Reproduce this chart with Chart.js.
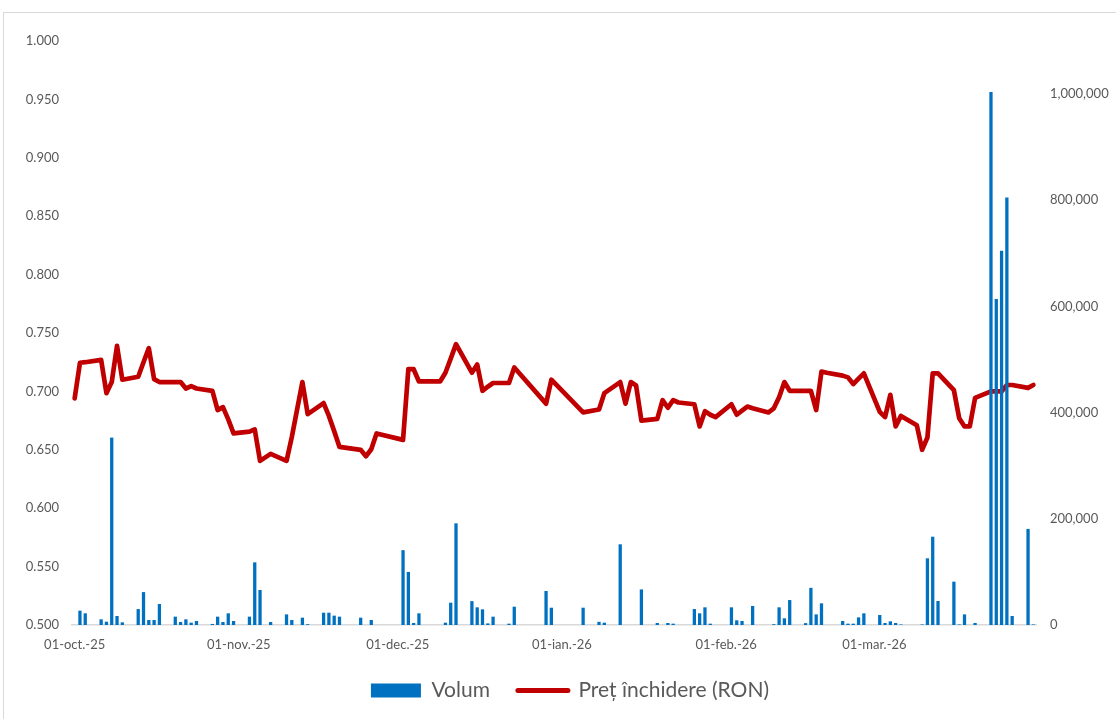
<!DOCTYPE html>
<html><head><meta charset="utf-8">
<script src="https://cdn.jsdelivr.net/npm/chart.js@4.4.1/dist/chart.umd.min.js"></script>
<style>
html,body{margin:0;padding:0;background:#fff;overflow:hidden;width:1116px;height:719px;}
#frame{position:absolute;left:3px;top:12px;width:1200px;height:800px;border:1px solid #d9d9d9;box-sizing:border-box;}
#wrap{position:absolute;left:0;top:0;width:1116px;height:719px;}
</style></head><body>
<div id="frame"></div>
<div id="wrap"><canvas id="c" width="1116" height="719"></canvas></div>
<script>
// Trading days (closing price in RON, traded volume)
const tradeDates = [
 '2025-10-01','2025-10-02','2025-10-03','2025-10-06','2025-10-07','2025-10-08','2025-10-09','2025-10-10',
 '2025-10-13','2025-10-14','2025-10-15','2025-10-16','2025-10-17','2025-10-20','2025-10-21','2025-10-22',
 '2025-10-23','2025-10-24','2025-10-27','2025-10-28','2025-10-29','2025-10-30','2025-10-31',
 '2025-11-03','2025-11-04','2025-11-05','2025-11-07','2025-11-10','2025-11-11','2025-11-13','2025-11-14',
 '2025-11-17','2025-11-18','2025-11-19','2025-11-20','2025-11-24','2025-11-25','2025-11-26','2025-11-27',
 '2025-12-02','2025-12-03','2025-12-04','2025-12-05','2025-12-09','2025-12-10','2025-12-11','2025-12-12',
 '2025-12-15','2025-12-16','2025-12-17','2025-12-18','2025-12-19','2025-12-22','2025-12-23','2025-12-29','2025-12-30',
 '2026-01-05','2026-01-08','2026-01-09','2026-01-12','2026-01-13','2026-01-14','2026-01-15','2026-01-16',
 '2026-01-19','2026-01-20','2026-01-21','2026-01-22','2026-01-23','2026-01-26','2026-01-27','2026-01-28','2026-01-29','2026-01-30',
 '2026-02-02','2026-02-03','2026-02-04','2026-02-05','2026-02-06','2026-02-09','2026-02-10','2026-02-11','2026-02-12','2026-02-13',
 '2026-02-16','2026-02-17','2026-02-18','2026-02-19','2026-02-20','2026-02-23','2026-02-24','2026-02-25','2026-02-26','2026-02-27',
 '2026-03-02','2026-03-03','2026-03-04','2026-03-05','2026-03-06','2026-03-09','2026-03-10','2026-03-11','2026-03-12','2026-03-13',
 '2026-03-16','2026-03-17','2026-03-18','2026-03-19','2026-03-20','2026-03-23','2026-03-24','2026-03-25','2026-03-26','2026-03-27',
 '2026-03-30','2026-03-31'
];
const closePrice = [
 0.694,0.7245,0.725,0.727,0.6985,0.708,0.739,0.710,
 0.7125,0.725,0.737,0.7105,0.708,0.708,0.708,0.7025,
 0.7045,0.7025,0.7005,0.684,0.6865,0.676,0.664,
 0.6655,0.6675,0.6405,0.6465,0.6405,0.661,0.708,0.6805,
 0.690,0.679,0.666,0.6525,0.650,0.6445,0.6505,0.664,
 0.6585,0.719,0.719,0.7085,0.7085,0.716,0.728,0.7405,
 0.716,0.723,0.7005,0.704,0.7072,0.7072,0.7205,0.6895,0.710,
 0.682,0.6845,0.6985,0.708,0.6895,0.708,0.705,0.675,
 0.6765,0.6925,0.686,0.6925,0.6905,0.689,0.670,0.683,0.680,0.678,
 0.689,0.680,0.6835,0.687,0.6855,0.682,0.6855,0.695,0.708,0.7005,
 0.7005,0.7005,0.684,0.717,0.716,0.7135,0.712,0.7063,0.711,0.7155,
 0.6825,0.678,0.697,0.670,0.679,0.671,0.650,0.6605,0.7155,0.7155,
 0.701,0.677,0.670,0.670,0.6945,0.700,0.700,0.700,0.7055,0.7055,
 0.703,0.7055
];
const volume = [
 0,27000,22000,10700,6200,353000,17000,5000,
 30000,62000,9400,9400,39500,15700,5600,10700,
 4400,7500,2000,15700,5600,22000,7500,
 15700,118000,66000,5600,20000,9400,13800,1500,
 23200,23200,17600,15700,13800,0,9400,0,
 141000,100000,3800,22000,0,4400,42000,191500,
 45000,33300,29500,3000,15700,2500,34500,64000,32600,
 32600,6000,4400,152000,0,0,0,67000,
 3800,0,3800,2500,0,30000,22000,33300,2500,0,
 33300,8800,7500,0,35800,0,1500,33300,12600,47000,
 3500,70000,20000,40800,0,7500,2500,2500,14400,22000,
 18800,3800,6900,3800,1000,0,1000,125600,166300,45200,
 81600,1000,20000,0,3800,1004000,614000,705000,805000,17000,
 181000,1000
];
// Month tick labels shown on the date axis
const monthTickLabels = {
 '2025-10-01':'01-oct.-25','2025-11-01':'01-nov.-25','2025-12-01':'01-dec.-25',
 '2026-01-01':'01-ian.-26','2026-02-01':'01-feb.-26','2026-03-01':'01-mar.-26'
};
const priceTicks = [0.5,0.55,0.6,0.65,0.7,0.75,0.8,0.85,0.9,0.95,1.0];
const volumeTicks = [0,200000,400000,600000,800000,1000000];
const seriesNames = ['Volum','Preț închidere (RON)'];

// calendar-day categories (date axis)
const calendarDays = [];
for (let d = new Date(Date.UTC(2025,9,1)); d <= new Date(Date.UTC(2026,2,31)); d.setUTCDate(d.getUTCDate()+1)) {
  calendarDays.push(d.toISOString().slice(0,10));
}
const volData = tradeDates.map((x,i)=>({x, y: volume[i]}));
const priceData = tradeDates.map((x,i)=>({x, y: closePrice[i]}));

const tickFont = {family:'Lato', size:13};
const legendTweak = {
  id:'legendTweak',
  afterInit(chart){
    const lg = chart.legend;
    const origFit = lg.fit.bind(lg);
    lg.fit = function(){ origFit(); this.height = 57; };
    const origDraw = lg.draw.bind(lg);
    lg.draw = function(){ const ctx = this.ctx; ctx.save(); ctx.translate(12,0); origDraw(); ctx.restore(); };
  }
};

new Chart(document.getElementById('c'), {
  data: {
    labels: calendarDays,
    datasets: [
      {type:'bar', label: seriesNames[0], data: volData, yAxisID:'y1', order:0,
       backgroundColor:'#0070C0', borderWidth:0, barPercentage:0.62, categoryPercentage:1.0},
      {type:'line', label: seriesNames[1], data: priceData, yAxisID:'y', order:1,
       borderColor:'#C00000', backgroundColor:'#C00000', borderWidth:4.7, pointRadius:0,
       tension:0, borderJoinStyle:'round', borderCapStyle:'round', fill:false}
    ]
  },
  options: {
    responsive:false, animation:false,
    layout:{padding:{left:0,right:0,top:41,bottom:10}},
    plugins:{
      tooltip:{enabled:false},
      legend:{
        position:'bottom',
        labels:{
          font:{family:'Lato', size:21}, color:'#595959', padding:28,
          usePointStyle:true, pointStyleWidth:50, boxHeight:14,
          generateLabels(chart){
            return chart.data.datasets.map((ds,i)=>({
              text: ds.label, datasetIndex:i,
              fillStyle: ds.type==='bar' ? '#0070C0' : 'rgba(0,0,0,0)',
              strokeStyle: ds.type==='bar' ? '#0070C0' : '#C00000',
              lineWidth: ds.type==='bar' ? 0 : 5,
              lineCap:'round',
              pointStyle: ds.type==='bar' ? 'rect' : 'line',
              fontColor:'#595959', hidden:false
            }));
          }
        }
      }
    },
    scales:{
      x:{
        type:'category', offset:true,
        grid:{display:false, drawTicks:false},
        border:{display:true, color:'#d9d9d9', width:1.5},
        ticks:{autoSkip:false, maxRotation:0, minRotation:0, padding:12, color:'#595959', font:tickFont,
          callback(v){ const l = this.getLabelForValue(v); return monthTickLabels[l] || ''; }},
        afterFit(s){ s.height = 27; }
      },
      y:{
        position:'left', min:0.5, max:1.0,
        grid:{display:false, drawTicks:false}, border:{display:false},
        afterBuildTicks(s){ s.ticks = priceTicks.map(v=>({value:v})); },
        ticks:{padding:13, color:'#595959', font:tickFont, callback:v=>Number(v).toFixed(3)},
        afterFit(s){ s.width = 72; }
      },
      y1:{
        position:'right', min:0, max:1100000,
        grid:{display:false, drawTicks:false}, border:{display:false},
        afterBuildTicks(s){ s.ticks = volumeTicks.map(v=>({value:v})); },
        ticks:{padding:14, color:'#595959', font:tickFont,
          callback:v=>Number(v).toLocaleString('en-US')},
        afterFit(s){ s.width = 80; }
      }
    }
  },
  plugins:[legendTweak]
});
</script>
</body></html>
